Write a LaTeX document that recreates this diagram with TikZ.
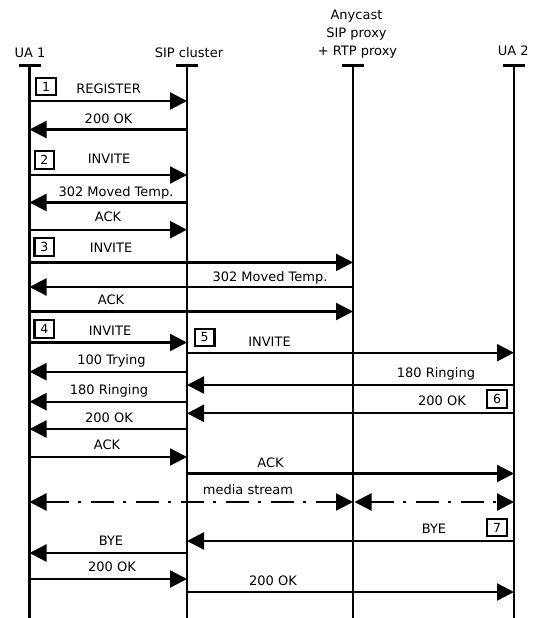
\documentclass[tikz,border=0pt]{standalone}
\usepackage{fontspec}
\setmainfont{DejaVu Sans}
\usetikzlibrary{arrows.meta}
\begin{document}
\begin{tikzpicture}[x=1pt,y=-1pt,
  life/.style={line width=2.3pt},
  msg/.style={line width=2.3pt,-{Triangle[length=17pt,width=17pt]}},
  stream/.style={line width=2.3pt,{Triangle[length=17pt,width=17pt]}-{Triangle[length=17pt,width=17pt]},dash pattern=on 23pt off 9pt on 3pt off 10pt},
  lbl/.style={inner sep=0pt,text height=9.5pt,text depth=0pt,font=\fontsize{13}{15}\selectfont},
  stepno/.style={draw,line width=2.2pt,minimum width=19.5pt,minimum height=17.5pt,inner sep=0pt,font=\fontsize{12.5}{14}\selectfont}]
\useasboundingbox (0,0) rectangle (536,618);
% lifelines
\coordinate (u1) at (29.5,65.5);  \coordinate (u1e) at (29.5,618);
\coordinate (sc) at (187,65.5);   \coordinate (sce) at (187,618);
\coordinate (px) at (353,65.5);   \coordinate (pxe) at (353,618);
\coordinate (u2) at (514,65.5);   \coordinate (u2e) at (514,618);
\foreach \a/\b in {u1/u1e,sc/sce,px/pxe,u2/u2e}{
  \draw[life] (\a) -- (\b);
  \draw[life] ([xshift=-11pt]\a) -- ([xshift=11pt]\a);
}
% headers
\node[lbl] (hu1) at (30,53) {UA 1};
\node[lbl] (hsc) at (189,52.4) {SIP cluster};
\node[lbl] (hp1) at (356.5,15) {Anycast};
\node[lbl] (hp2) at (356.5,33) {SIP proxy};
\node[lbl] (hp3) at (357.5,51) {+ RTP proxy};
\node[lbl] (hu2) at (513.3,51) {UA 2};
% step boxes
\node[stepno] (s1) at (46,86.5) {1};
\node[stepno] (s2) at (44.4,160) {2};
\node[stepno] (s3) at (44.3,247) {3};
\node[stepno] (s4) at (44.3,329) {4};
\node[stepno] (s5) at (204.7,337.5) {5};
\node[stepno] (s6) at (497,399) {6};
\node[stepno] (s7) at (497,527.5) {7};
% messages
\draw[msg] (u1 |- 0,101) -- (sc |- 0,101);
\node[lbl] (m1) at (108.6,89) {REGISTER};
\draw[msg] (sc |- 0,129.5) -- (u1 |- 0,129.5);
\node[lbl] (m2) at (108.6,119) {200 OK};
\draw[msg] (u1 |- 0,175) -- (sc |- 0,175);
\node[lbl] (m3) at (109,159) {INVITE};
\draw[msg] (sc |- 0,202.5) -- (u1 |- 0,202.5);
\node[lbl] (m4) at (116,192) {302 Moved Temp.};
\draw[msg] (u1 |- 0,229.7) -- (sc |- 0,229.7);
\node[lbl] (m5) at (108,217) {ACK};
\draw[msg] (u1 |- 0,262.4) -- (px |- 0,262.4);
\node[lbl] (m6) at (111,248) {INVITE};
\draw[msg] (px |- 0,287) -- (u1 |- 0,287);
\node[lbl] (m7) at (270,277) {302 Moved Temp.};
\draw[msg] (u1 |- 0,311.5) -- (px |- 0,311.5);
\node[lbl] (m8) at (111,300) {ACK};
\draw[msg] (u1 |- 0,342.5) -- (sc |- 0,342.5);
\node[lbl] (m9) at (110,331) {INVITE};
\draw[msg] (sc |- 0,352.7) -- (u2 |- 0,352.7);
\node[lbl] (m10) at (269.5,341.7) {INVITE};
\draw[msg] (sc |- 0,371.7) -- (u1 |- 0,371.7);
\node[lbl] (m11) at (111.5,359.3) {100 Trying};
\draw[msg] (u2 |- 0,385) -- (sc |- 0,385);
\node[lbl] (m12) at (436,373) {180 Ringing};
\draw[msg] (sc |- 0,401.7) -- (u1 |- 0,401.7);
\node[lbl] (m13) at (109,390) {180 Ringing};
\draw[msg] (u2 |- 0,413.3) -- (sc |- 0,413.3);
\node[lbl] (m14) at (442,401) {200 OK};
\draw[msg] (sc |- 0,429) -- (u1 |- 0,429);
\node[lbl] (m15) at (109,418) {200 OK};
\draw[msg] (u1 |- 0,457) -- (sc |- 0,457);
\node[lbl] (m16) at (107,444.3) {ACK};
\draw[msg] (sc |- 0,473.5) -- (u2 |- 0,473.5);
\node[lbl] (m17) at (270.5,463) {ACK};
\draw[stream] (u1 |- 0,502) -- (px |- 0,502);
\draw[stream] ([xshift=1.5pt]px |- 0,502) -- (u2 |- 0,502);
\node[lbl] (m18) at (248,490) {media stream};
\draw[msg] (u2 |- 0,541) -- (sc |- 0,541);
\node[lbl] (m19) at (434,528.7) {BYE};
\draw[msg] (sc |- 0,553) -- (u1 |- 0,553);
\node[lbl] (m20) at (111,541) {BYE};
\draw[msg] (u1 |- 0,579) -- (sc |- 0,579);
\node[lbl] (m21) at (112,567) {200 OK};
\draw[msg] (sc |- 0,592) -- (u2 |- 0,592);
\node[lbl] (m22) at (273,580.6) {200 OK};
\end{tikzpicture}
\end{document}
